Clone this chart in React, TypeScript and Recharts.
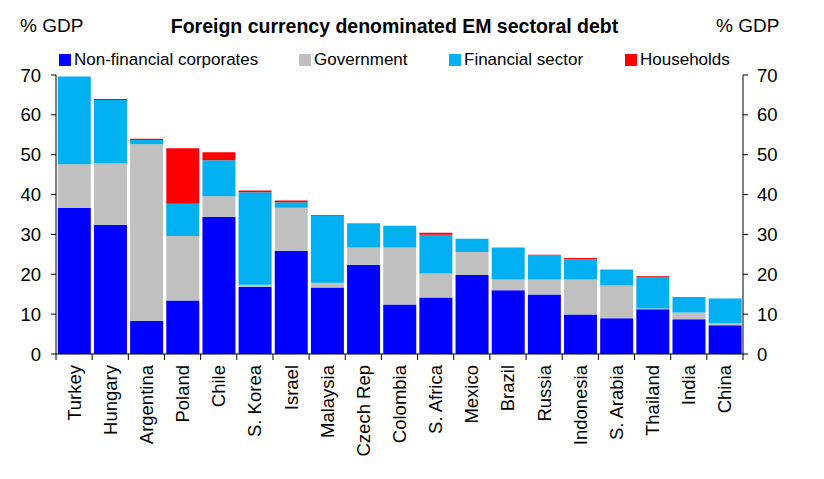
import React from "react";
import { ComposedChart, Bar, Line, XAxis, YAxis } from "recharts";

const categories = [
  "Turkey", "Hungary", "Argentina", "Poland", "Chile", "S. Korea", "Israel",
  "Malaysia", "Czech Rep", "Colombia", "S. Africa", "Mexico", "Brazil",
  "Russia", "Indonesia", "S. Arabia", "Thailand", "India", "China",
];
const nonFinancial = [36.6, 32.4, 8.3, 13.4, 34.4, 16.9, 25.9, 16.7, 22.4, 12.4, 14.2, 19.8, 16.0, 14.9, 9.9, 9.0, 11.2, 8.7, 7.2];
const government = [11.0, 15.4, 44.3, 16.2, 5.2, 0.5, 10.8, 1.2, 4.3, 14.3, 6.0, 5.8, 2.7, 3.8, 8.8, 8.2, 0.2, 1.7, 0.5];
const financial = [22.0, 15.9, 1.1, 8.1, 9.0, 23.2, 1.4, 16.8, 6.1, 5.5, 9.7, 3.3, 8.0, 6.0, 5.1, 4.0, 8.0, 3.9, 6.2];
const households = [0, 0.3, 0.3, 13.9, 2.0, 0.4, 0.4, 0.2, 0, 0, 0.5, 0, 0, 0.2, 0.3, 0, 0.2, 0, 0];
const yTicks = [0, 10, 20, 30, 40, 50, 60, 70];

const series = [
  { key: "nfc", name: "Non-financial corporates", color: "#0000FF" },
  { key: "gov", name: "Government", color: "#C0C0C0" },
  { key: "fin", name: "Financial sector", color: "#00B0F0" },
  { key: "hh", name: "Households", color: "#FF0000" },
];

const data = categories.map((name, i) => ({
  name,
  nfc: nonFinancial[i],
  gov: government[i],
  fin: financial[i],
  hh: households[i],
}));

const W = 824;
const H = 479;
const LEFT_W = 56;
const RIGHT_W = 81;
const PLOT_W = W - LEFT_W - RIGHT_W;
const FONT = "'Liberation Sans', Arial, sans-serif";

function CountryTick(props: any) {
  const { x, y, payload, index } = props;
  const band = PLOT_W / categories.length;
  return (
    <g>
      <line x1={x - band / 2} x2={x - band / 2} y1={y} y2={y + 6} stroke="#000" />
      {index === categories.length - 1 && (
        <line x1={x + band / 2} x2={x + band / 2} y1={y} y2={y + 6} stroke="#000" />
      )}
      <text
        transform={`translate(${x + 6.5},${y + 11}) rotate(-90)`}
        textAnchor="end"
        fontSize={18.5}
        fontFamily={FONT}
        fill="#000"
      >
        {payload.value}
      </text>
    </g>
  );
}

// left edge of each legend swatch
const legendX = [59, 299, 449, 625];

function LegendRow() {
  return (
    <div style={{ position: "absolute", left: 0, top: 50, width: W, height: 22 }}>
      {series.map((s, i) => (
        <div
          key={s.key}
          style={{
            position: "absolute",
            left: legendX[i],
            top: 0,
            display: "flex",
            alignItems: "center",
            fontFamily: FONT,
            fontSize: 17,
            color: "#000",
            whiteSpace: "nowrap",
          }}
        >
          <span style={{ width: 12, height: 12, background: s.color, marginRight: 3, display: "inline-block" }} />
          {s.name}
        </div>
      ))}
    </div>
  );
}

export default function App() {
  return (
    <div style={{ position: "absolute", left: 0, top: 0, width: W, height: H, background: "#fff" }}>
      <ComposedChart
        width={W}
        height={H}
        data={data}
        margin={{ top: 75, right: 0, bottom: 0, left: 0 }}
        barCategoryGap="5%"
      >
        <XAxis
          dataKey="name"
          height={125}
          interval={0}
          tickSize={0}
          tickMargin={0}
          tickLine={false}
          axisLine={{ stroke: "#000" }}
          tick={<CountryTick />}
        />
        <YAxis
          yAxisId="left"
          orientation="left"
          width={LEFT_W}
          domain={[0, 70]}
          ticks={yTicks}
          interval={0}
          tickSize={5}
          tickMargin={10}
          axisLine={{ stroke: "#000" }}
          tickLine={{ stroke: "#000" }}
          tick={{ fontSize: 18.5, fontFamily: FONT, fill: "#000" }}
        />
        <YAxis
          yAxisId="right"
          orientation="right"
          width={RIGHT_W}
          domain={[0, 70]}
          ticks={yTicks}
          interval={0}
          tickSize={5}
          tickMargin={9}
          axisLine={{ stroke: "#000" }}
          tickLine={{ stroke: "#000" }}
          tick={{ fontSize: 18.5, fontFamily: FONT, fill: "#000" }}
        />
        {series.map((s) => (
          <Bar
            key={s.key}
            dataKey={s.key}
            name={s.name}
            stackId="a"
            yAxisId="left"
            fill={s.color}
            isAnimationActive={false}
          />
        ))}
        <Line
          dataKey="nfc"
          yAxisId="right"
          stroke="none"
          dot={false}
          activeDot={false}
          legendType="none"
          isAnimationActive={false}
        />
      </ComposedChart>
      <div style={{ position: "absolute", left: 20, top: 15, fontFamily: FONT, fontSize: 19 }}>% GDP</div>
      <div style={{ position: "absolute", left: 0, width: 789, top: 15, textAlign: "center", fontFamily: FONT, fontSize: 19.5, fontWeight: "bold", whiteSpace: "nowrap" }}>
        Foreign currency denominated EM sectoral debt
      </div>
      <div style={{ position: "absolute", left: 716, top: 15, fontFamily: FONT, fontSize: 19 }}>% GDP</div>
      <LegendRow />
    </div>
  );
}
